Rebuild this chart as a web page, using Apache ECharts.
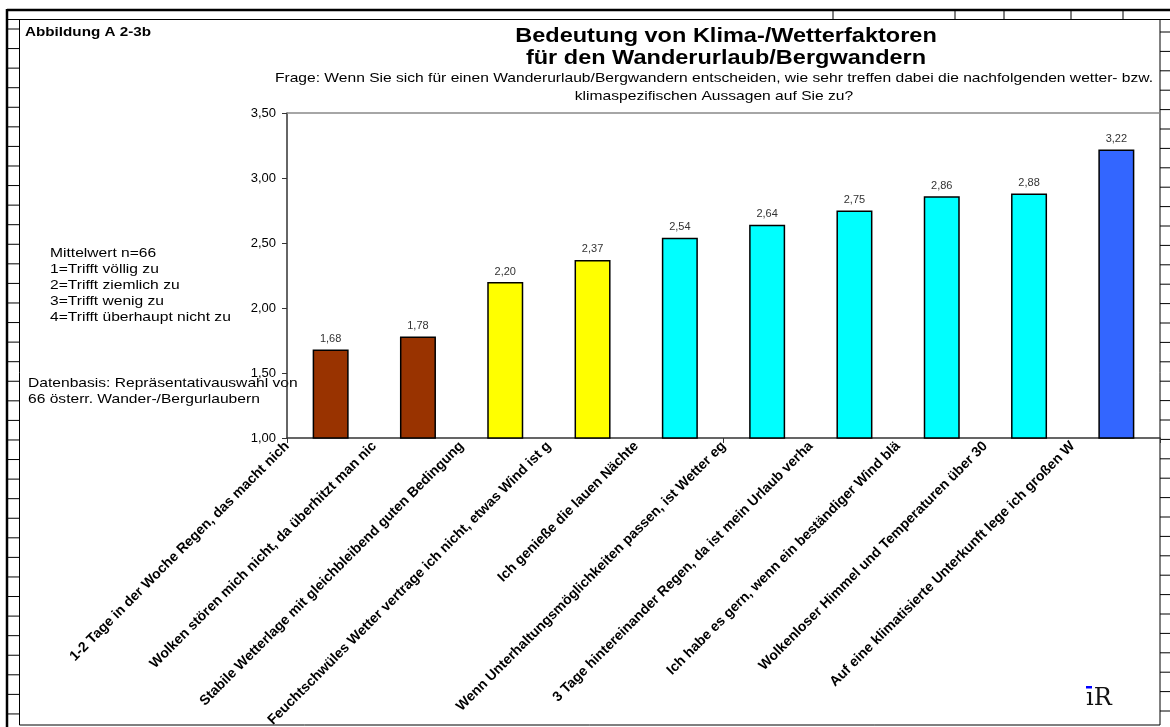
<!DOCTYPE html>
<html>
<head>
<meta charset="utf-8">
<title>Bedeutung von Klima-/Wetterfaktoren</title>
<script src="https://cdn.jsdelivr.net/npm/echarts@6/dist/echarts.min.js"></script>
<style>
  html, body { margin: 0; padding: 0; background: #fff; }
  #chart { width: 1170px; height: 727px; }
</style>
</head>
<body>
<div id="chart"></div>
<script>
// Aussagen (Achsenbeschriftung, wie im Original abgeschnitten)
const categories = [
    '1-2 Tage in der Woche Regen, das macht nich',
    'Wolken stören mich nicht, da überhitzt man nic',
    'Stabile Wetterlage mit gleichbleibend guten Bedingung',
    'Feuchtschwüles Wetter vertrage ich nicht, etwas Wind ist g',
    'Ich genieße die lauen Nächte',
    'Wenn Unterhaltungsmöglichkeiten passen, ist Wetter eg',
    '3 Tage hintereinander Regen, da ist mein Urlaub verha',
    'Ich habe es gern, wenn ein beständiger Wind blä',
    'Wolkenloser Himmel und Temperaturen über 30',
    'Auf eine klimatisierte Unterkunft lege ich großen W'
];
// Mittelwerte (1 = trifft völlig zu ... 4 = trifft überhaupt nicht zu)
const meanValues = [1.68, 1.78, 2.20, 2.37, 2.54, 2.64, 2.75, 2.86, 2.88, 3.22];
const yTicks = [1.00, 1.50, 2.00, 2.50, 3.00, 3.50];

const barColors = ['#993300', '#993300', '#ffff00', '#ffff00', '#00ffff',
                   '#00ffff', '#00ffff', '#00ffff', '#00ffff', '#3366ff'];

const FONT = '"Liberation Sans", Arial, sans-serif';
const deNum = v => v.toFixed(2).replace('.', ',');

// Rahmen / Tabellenraster der Vorlage
const frame = [];
const line = (x1, y1, x2, y2, w) => frame.push({
    type: 'line', silent: true,
    shape: { x1, y1, x2, y2 },
    style: { stroke: '#000', lineWidth: w || 1 }
});
line(7, 10, 1170, 10, 2.5);
line(7, 9, 7, 727, 2.5);
line(7, 19.5, 1170, 19.5, 1);
[833, 955, 1004, 1071, 1123].forEach(x => line(x, 10, x, 19.5));
for (let y = 29; y < 722; y += 19.57) line(7, y, 19, y);
for (let y = 32; y < 722; y += 19.4) line(1160, y, 1170, y);
frame.push({
    type: 'rect', silent: true,
    shape: { x: 19.5, y: 19.5, width: 1140.5, height: 705.5 },
    style: { fill: 'none', stroke: '#000', lineWidth: 1 }
});

// Text der Vorlage ist horizontal etwas gestreckt -> scaleX
const txt = (x, y, text, font, align, lh) => ({
    type: 'text', x, y, scaleX: 1.2, silent: true,
    style: { text, font, fill: '#000', align: align || 'left', lineHeight: lh || 16 }
});

const chart = echarts.init(document.getElementById('chart'));
chart.setOption({
    backgroundColor: '#fff',
    animation: false,
    graphic: frame.concat([
        txt(25, 24, 'Abbildung A 2-3b', 'bold 12.7px ' + FONT),
        txt(726, 26, 'Bedeutung von Klima-/Wetterfaktoren\nfür den Wanderurlaub/Bergwandern',
            'bold 19.6px ' + FONT, 'center', 22),
        txt(714, 69, 'Frage: Wenn Sie sich für einen Wanderurlaub/Bergwandern entscheiden, wie sehr treffen dabei die nachfolgenden wetter- bzw.\nklimaspezifischen Aussagen auf Sie zu?',
            '13px ' + FONT, 'center', 18),
        txt(50, 245, 'Mittelwert n=66\n1=Trifft völlig zu\n2=Trifft ziemlich zu\n3=Trifft wenig zu\n4=Trifft überhaupt nicht zu',
            '13px ' + FONT),
        txt(28, 375, 'Datenbasis: Repräsentativauswahl von\n66 österr. Wander-/Bergurlaubern', '13px ' + FONT),
        {
            type: 'text', x: 1086, y: 687, silent: true,
            style: { text: 'ıR', font: '24px "DejaVu Serif", serif', fill: '#111' }
        },
        {
            type: 'rect', x: 1086, y: 686, silent: true,
            shape: { width: 6, height: 2.5 }, style: { fill: '#0000ff' }
        }
    ]),
    grid: {
        left: 287, top: 113, width: 873, height: 325,
        outerBoundsMode: 'none', containLabel: false,
        show: true, borderWidth: 0
    },
    xAxis: [
        {
            type: 'category', data: categories, position: 'bottom',
            axisLine: { lineStyle: { color: '#333', width: 1.5 } },
            axisTick: { show: true, length: 5, lineStyle: { color: '#333' } },
            axisLabel: { show: false }
        },
        {
            // Beschriftung an den Teilstrichen links der Säulen, wie in der Vorlage
            type: 'category', data: categories.concat(['']), position: 'bottom',
            boundaryGap: false,
            axisLine: { show: false }, axisTick: { show: false },
            axisLabel: {
                interval: 0, rotate: 45, margin: 6, hideOverlap: false,
                fontSize: 14, fontWeight: 'bold', color: '#000', fontFamily: FONT
            }
        }
    ],
    yAxis: {
        type: 'value', min: 1, max: 3.5, interval: 0.5,
        axisLine: { show: true, lineStyle: { color: '#333', width: 1.5 } },
        axisTick: { show: true, length: 5, lineStyle: { color: '#333' } },
        splitLine: { show: false },
        axisLabel: {
            margin: 11, fontSize: 13, color: '#000', fontFamily: FONT,
            formatter: v => yTicks.includes(v) ? deNum(v) : ''
        }
    },
    series: [
        {
            type: 'bar', xAxisIndex: 0, barWidth: 36,
            data: meanValues.map((v, i) => ({ value: v, itemStyle: { color: barColors[i] } })),
            itemStyle: { borderColor: '#000', borderWidth: 1.5 },
            label: {
                show: true, position: 'top', distance: 5,
                fontSize: 11, color: '#333', fontFamily: FONT,
                formatter: p => deNum(p.value)
            },
            markLine: {
                silent: true, symbol: 'none', label: { show: false },
                lineStyle: { color: '#888', type: 'solid', width: 1.5 },
                data: [{ yAxis: 3.5 }]
            }
        }
    ]
});
</script>
</body>
</html>
